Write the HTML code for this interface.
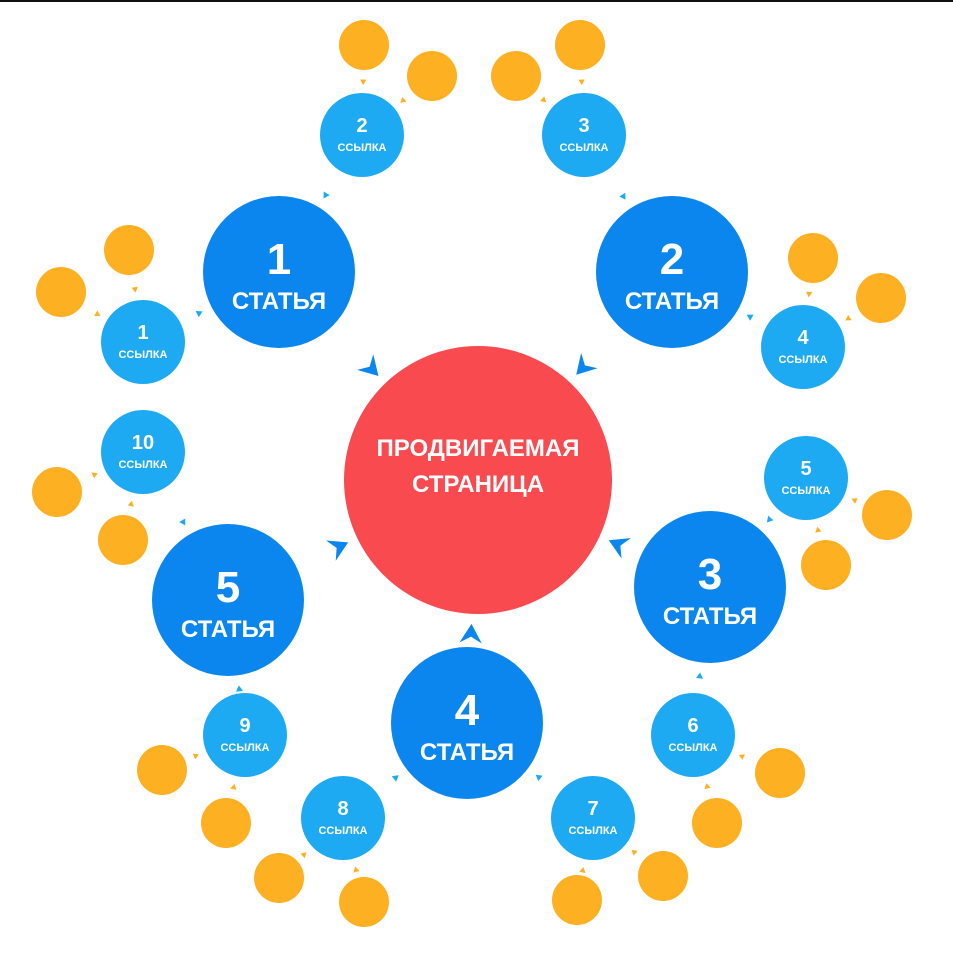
<!DOCTYPE html>
<html><head><meta charset="utf-8"><style>
html,body{margin:0;padding:0;background:#fff}
svg{display:block}
text{font-family:"Liberation Sans","DejaVu Sans",sans-serif;font-weight:bold;fill:#fff;text-anchor:middle}
</style></head><body>
<svg id="s" width="953" height="953" viewBox="0 0 953 953" xmlns="http://www.w3.org/2000/svg">
<rect width="953" height="953" fill="#fff"/>
<rect width="953" height="2" fill="#111"/>
<circle cx="478" cy="480" r="134" fill="#F84A4F"/>
<text x="478" y="456" font-size="24">ПРОДВИГАЕМАЯ</text>
<text x="478" y="492" font-size="24">СТРАНИЦА</text>
<g id="g"></g>
</svg>
<script>
var NS="http://www.w3.org/2000/svg",g=document.getElementById('g');
function el(t,a,txt){var e=document.createElementNS(NS,t);for(var k in a)e.setAttribute(k,a[k]);if(txt)e.textContent=txt;g.appendChild(e);return e;}
function tri(tx,ty,sx,sy,d,size,col,notch){
 var dx=sx-tx,dy=sy-ty,L=Math.hypot(dx,dy);dx/=L;dy/=L;
 var px=tx+dx*d,py=ty+dy*d;
 var bx=px+dx*size*1.2,by=py+dy*size*1.2,nx=-dy,ny=dx;
 var pts=[[px,py],[bx+nx*size*0.7,by+ny*size*0.7]];
 if(notch)pts.push([px+dx*size*0.8,py+dy*size*0.8]);
 pts.push([bx-nx*size*0.7,by-ny*size*0.7]);
 el('polygon',{points:pts.map(function(p){return p.join(',')}).join(' '),fill:col});
}
var C=[478,480,134];
var arts=[[1,279,272],[2,672,272],[3,710,587],[4,467,723],[5,228,600]];
var links=[[2,362,135,1,[[364,45],[432,76]]],[3,584,135,2,[[580,45],[516,76]]],[1,143,342,1,[[129,250],[61,292]]],
[4,803,347,2,[[813,258],[881,298]]],[5,806,478,3,[[887,515],[826,565]]],[10,143,452,5,[[57,492],[123,540]]],
[9,245,735,5,[[162,770],[226,823]]],[8,343,818,4,[[279,878],[364,902]]],[7,593,818,4,[[663,876],[577,900]]],[6,693,735,3,[[780,773],[717,823]]]];
arts.forEach(function(a){
 el('circle',{cx:a[1],cy:a[2],r:76,fill:'#0A86EE'});
 el('text',{x:a[1],y:a[2]+2,'font-size':44},String(a[0]));
 el('text',{x:a[1],y:a[2]+37,'font-size':24},'СТАТЬЯ');
 tri(C[0],C[1],a[1],a[2],C[2]+10,16,'#0A86EE',true);
});
links.forEach(function(l){
 var A=arts[l[3]-1];
 el('circle',{cx:l[1],cy:l[2],r:42,fill:'#1EAAF2'});
 el('text',{x:l[1],y:l[2]-3,'font-size':20},String(l[0]));
 el('text',{x:l[1],y:l[2]+16,'font-size':11},'ССЫЛКА');
 tri(A[1],A[2],l[1],l[2],86,5,'#1EAAF2',false);
 l[4].forEach(function(o){
  el('circle',{cx:o[0],cy:o[1],r:25,fill:'#FDB022'});
  tri(l[1],l[2],o[0],o[1],50,4.5,'#FDB022',false);
 });
});
</script>
</body></html>
